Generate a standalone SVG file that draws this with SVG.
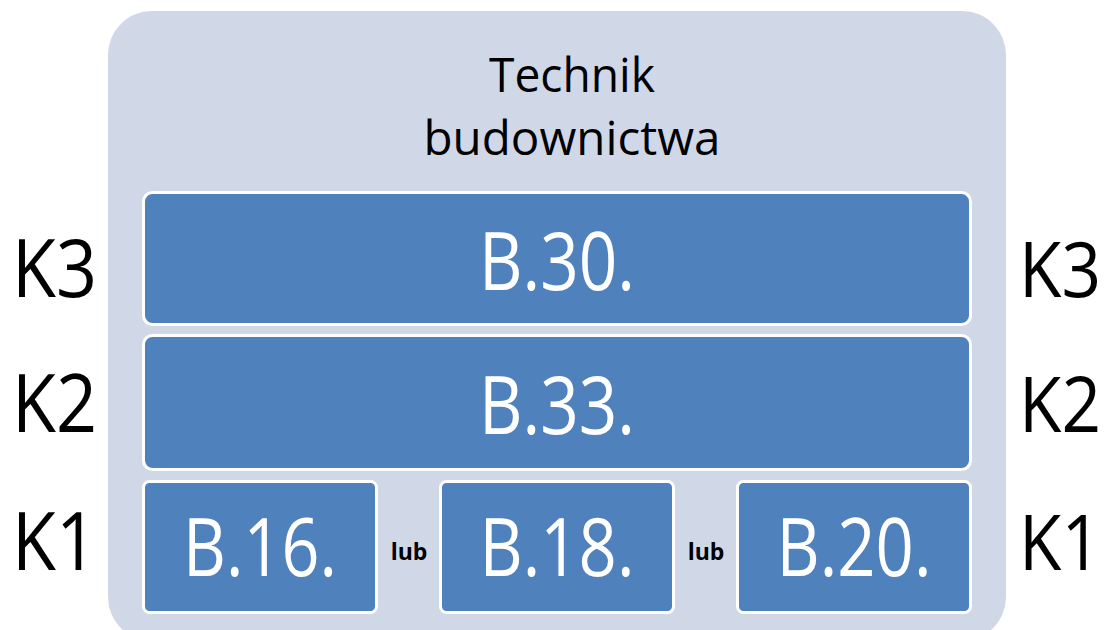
<svg xmlns="http://www.w3.org/2000/svg" width="1109" height="630" viewBox="0 0 1109 630">
<style>
.box{fill:#4F81BD;stroke:#FFFFFF;stroke-width:3}
.bt{font-family:"Open Sans","Liberation Sans",sans-serif;fill:#FFFFFF;text-anchor:middle;font-size:80px}
.k{font-family:"Open Sans","Liberation Sans",sans-serif;fill:#000000;font-size:80px}
.kr{font-family:"Open Sans","Liberation Sans",sans-serif;fill:#000000;font-size:77px}
.lub{font-family:"Open Sans","Liberation Sans",sans-serif;font-weight:bold;font-size:23px;fill:#000000;text-anchor:middle}
.title{font-family:"Open Sans","Liberation Sans",sans-serif;font-size:47px;fill:#000000;text-anchor:middle}
</style>
<rect width="1109" height="630" fill="#FFFFFF"/>
<g id="container">
<rect x="108" y="11" width="898" height="630" rx="44" fill="#D0D8E8"/>
<text class="title" x="572" y="92" textLength="166" lengthAdjust="spacingAndGlyphs">Technik</text>
<text class="title" x="572" y="155" textLength="297" lengthAdjust="spacingAndGlyphs">budownictwa</text>
</g>
<g id="b30"><rect class="box" x="143.5" y="192.5" width="827" height="132" rx="9"/><text class="bt" x="557" y="290" textLength="156" lengthAdjust="spacingAndGlyphs">B.30.</text></g>
<g id="b33"><rect class="box" x="143.5" y="335.5" width="827" height="134" rx="9"/><text class="bt" x="557" y="434" textLength="156" lengthAdjust="spacingAndGlyphs">B.33.</text></g>
<g id="b16"><rect class="box" x="143.5" y="481.5" width="233" height="131" rx="6"/><text class="bt" x="260" y="576" textLength="154" lengthAdjust="spacingAndGlyphs">B.16.</text></g>
<g id="b18"><rect class="box" x="440.5" y="481.5" width="233" height="131" rx="6"/><text class="bt" x="557" y="576" textLength="155" lengthAdjust="spacingAndGlyphs">B.18.</text></g>
<g id="b20"><rect class="box" x="737.5" y="481.5" width="233" height="131" rx="6"/><text class="bt" x="854" y="576" textLength="155" lengthAdjust="spacingAndGlyphs">B.20.</text></g>
<g id="labels">
<text class="lub" x="409" y="560">lub</text>
<text class="lub" x="706" y="560">lub</text>
<text class="k" x="12" y="297" textLength="85" lengthAdjust="spacingAndGlyphs">K3</text>
<text class="k" x="12" y="432" textLength="85" lengthAdjust="spacingAndGlyphs">K2</text>
<text class="k" x="12" y="570" textLength="85" lengthAdjust="spacingAndGlyphs">K1</text>
<text class="kr" x="1019" y="297" textLength="82" lengthAdjust="spacingAndGlyphs">K3</text>
<text class="kr" x="1019" y="432" textLength="82" lengthAdjust="spacingAndGlyphs">K2</text>
<text class="kr" x="1019" y="570" textLength="82" lengthAdjust="spacingAndGlyphs">K1</text>
</g>
<g id="connectors"></g>
</svg>
